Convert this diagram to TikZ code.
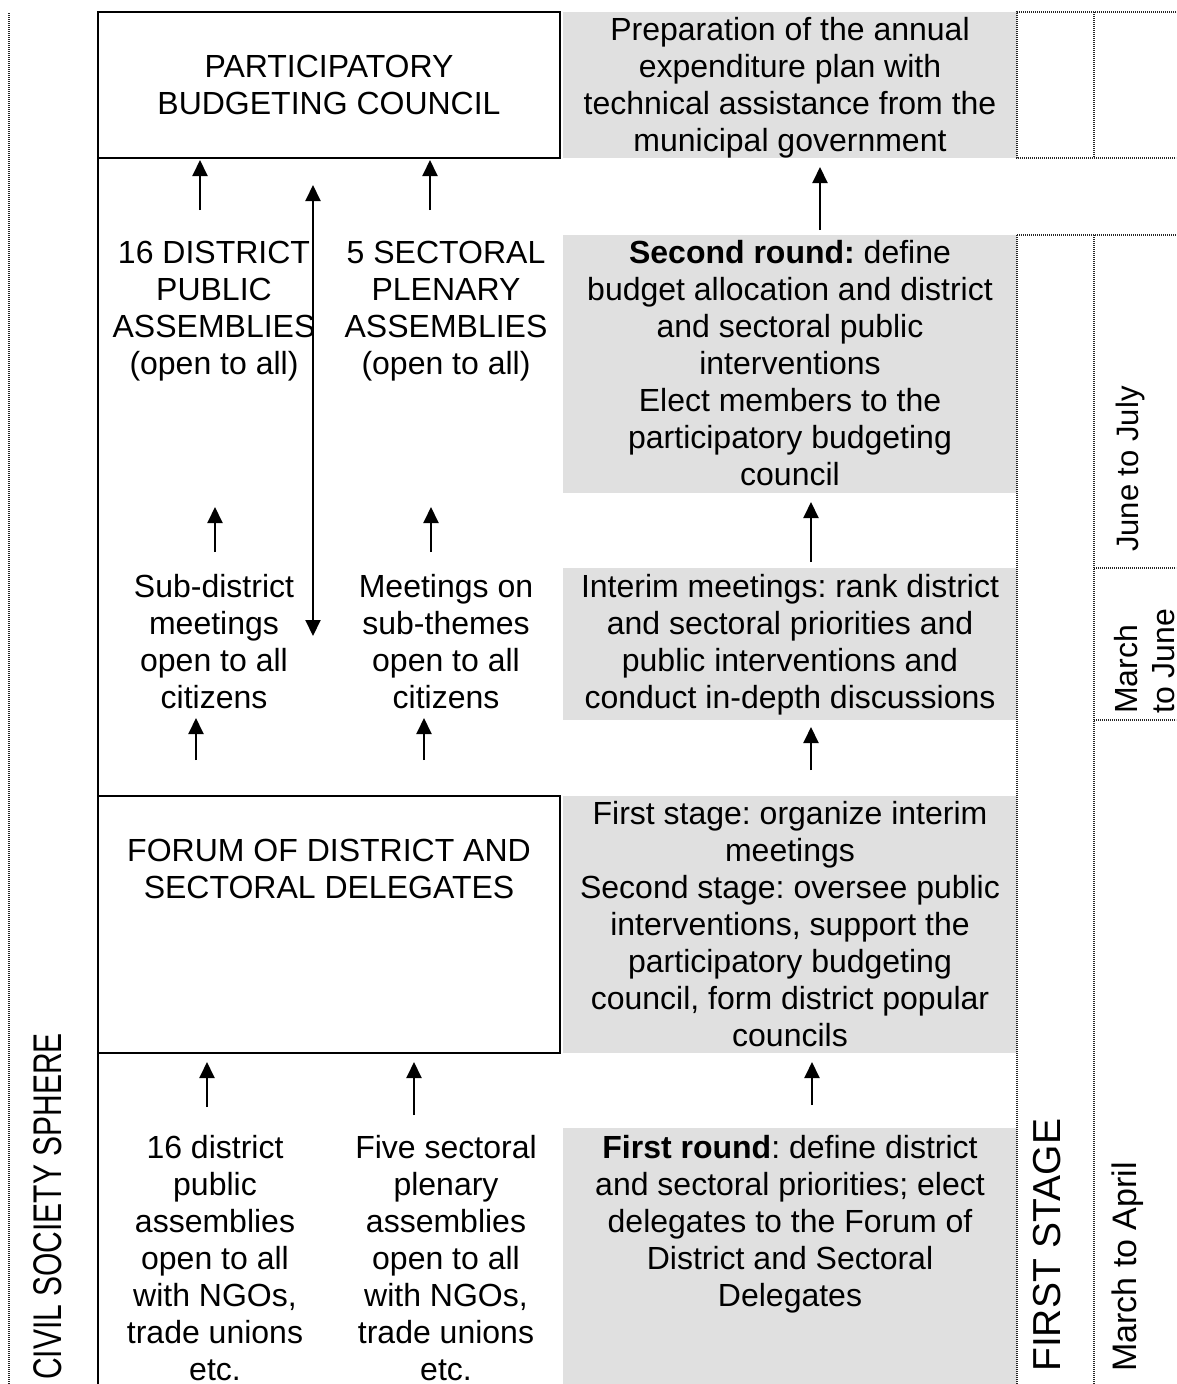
\documentclass[tikz,border=0pt]{standalone}
\usepackage{fontspec}
\usepackage{graphicx}
\setmainfont{Liberation Sans}
\usetikzlibrary{arrows.meta}
\frenchspacing
\begin{document}
\begin{tikzpicture}[x=1pt,y=-1pt,
  txt/.style={font=\fontsize{32}{37}\selectfont, align=center, inner sep=0pt,
    execute at begin node=\strut, execute at end node=\strut},
  rot/.style={font=\fontsize{32}{37}\selectfont, rotate=90, inner sep=0pt},
  wbox/.style={draw=black, line width=2.5pt, rectangle, inner sep=0pt, outer sep=0pt},
  gbox/.style={fill=black!12, rectangle, inner sep=0pt, outer sep=0pt, minimum width=454pt},
  dotline/.style={line width=1.5pt, dash pattern=on 1pt off 1pt, black!85},
  solidline/.style={line width=2.5pt, black},
  arr/.style={line width=2pt, -{Triangle[width=15pt,length=16pt]}},
  darr/.style={line width=2pt, {Triangle[width=15pt,length=16pt]}-{Triangle[width=15pt,length=16pt]}}
]
\useasboundingbox (0,0) rectangle (1176,1384);
\clip (0,0) rectangle (1176,1384);

% gray boxes
\node[gbox, minimum height=146pt] (g1) at (790,85) {};
\node[gbox, minimum height=258pt] (g2) at (790,364) {};
\node[gbox, minimum height=152pt] (g3) at (790,644) {};
\node[gbox, minimum height=257pt] (g4) at (790,924.5) {};
\node[gbox, minimum height=262pt] (g5) at (790,1259) {};

% white boxes
\node[wbox, minimum width=462pt, minimum height=146pt] (council) at (329,85) {};
\node[wbox, minimum width=462pt, minimum height=257pt] (forum) at (329,924.5) {};
\coordinate (leftbottom) at (98,1390);
\draw[solidline] (council.south west) -- (forum.north west);
\draw[solidline] (forum.south west) -- (leftbottom);

% left dotted line
\coordinate (ld1) at (9,13);
\coordinate (ld2) at (9,1390);
\draw[dotline] (ld1) -- (ld2);

% right dotted frames
\coordinate (rt1) at (1017,12);
\coordinate (rt2) at (1180,158);
\draw[dotline] (1180,12) -- (rt1) -- (1017,158) -- (rt2);
\coordinate (rtm1) at (1094,12);
\coordinate (rtm2) at (1094,158);
\draw[dotline] (rtm1) -- (rtm2);
\coordinate (rl1) at (1017,235);
\coordinate (rl2) at (1180,235);
\draw[dotline] (rl1) -- (rl2);
\coordinate (rv1b) at (1017,1390);
\draw[dotline] (rl1) -- (rv1b);
\coordinate (rv2a) at (1094,235);
\coordinate (rv2b) at (1094,1390);
\draw[dotline] (rv2a) -- (rv2b);
\coordinate (rh1a) at (1094,568);
\coordinate (rh1b) at (1180,568);
\draw[dotline] (rh1a) -- (rh1b);
\coordinate (rh2a) at (1094,720);
\coordinate (rh2b) at (1180,720);
\draw[dotline] (rh2a) -- (rh2b);

% texts in white column
\node[txt] (tcouncil) at (329,90.5) {PARTICIPATORY\\BUDGETING COUNCIL};
\node[txt] (tdist) at (214,313.5) {16 DISTRICT\\PUBLIC\\ASSEMBLIES\\(open to all)};
\node[txt] (tsect) at (446,313.5) {5 SECTORAL\\PLENARY\\ASSEMBLIES\\(open to all)};
\node[txt] (tsubd) at (214,647) {Sub-district\\meetings\\open to all\\citizens};
\node[txt] (tsubt) at (446,647) {Meetings on\\sub-themes\\open to all\\citizens};
\node[txt] (tforum) at (329,874.5) {FORUM OF DISTRICT AND\\SECTORAL DELEGATES};
\node[txt] (tdpa) at (215,1263) {16 district\\public\\assemblies\\open to all\\with NGOs,\\trade unions\\etc.};
\node[txt] (tspa) at (446,1263) {Five sectoral\\plenary\\assemblies\\open to all\\with NGOs,\\trade unions\\etc.};

% texts in gray column
\node[txt] (tg1) at (790,89.5) {Preparation of the annual\\expenditure plan with\\technical assistance from the\\municipal government};
\node[txt] (tg2) at (790,368.5) {\textbf{Second round:} define\\budget allocation and district\\and sectoral public\\interventions\\Elect members to the\\participatory budgeting\\council};
\node[txt] (tg3) at (790,647) {Interim meetings: rank district\\and sectoral priorities and\\public interventions and\\conduct in-depth discussions};
\node[txt] (tg4) at (790,929.5) {First stage: organize interim\\meetings\\Second stage: oversee public\\interventions, support the\\participatory budgeting\\council, form district popular\\councils};
\node[txt] (tg5) at (790,1226.5) {\textbf{First round}: define district\\and sectoral priorities; elect\\delegates to the Forum of\\District and Sectoral\\Delegates};

% rotated texts
\node[rot, anchor=west, font=\fontsize{40}{46}\selectfont] (civil) at (47.5,1380) {\scalebox{0.75}[1]{CIVIL SOCIETY SPHERE}};
\node[rot, anchor=west, font=\fontsize{39}{45}\selectfont] (first) at (1047,1372) {FIRST STAGE};
\node[rot, anchor=west, font=\fontsize{34}{39}\selectfont] (marapr) at (1128,1372) {March to April};
\node[rot, anchor=west, font=\fontsize{31}{36}\selectfont] (junjul) at (1130,552) {June to July};
\node[rot, anchor=north west, align=left] (marjun) at (1114,714) {March\\to June};

% arrows, white column
\coordinate (a1t) at (200,210); \coordinate (a1h) at (200,160);
\draw[arr] (a1t) -- (a1h);
\coordinate (a2t) at (430,210); \coordinate (a2h) at (430,160);
\draw[arr] (a2t) -- (a2h);
\coordinate (a3t) at (313,185); \coordinate (a3h) at (313,636);
\draw[darr] (a3t) -- (a3h);
\coordinate (a4t) at (215,552); \coordinate (a4h) at (215,507);
\draw[arr] (a4t) -- (a4h);
\coordinate (a5t) at (431,552); \coordinate (a5h) at (431,507);
\draw[arr] (a5t) -- (a5h);
\coordinate (a6t) at (196,760); \coordinate (a6h) at (196,718);
\draw[arr] (a6t) -- (a6h);
\coordinate (a7t) at (424,760); \coordinate (a7h) at (424,718);
\draw[arr] (a7t) -- (a7h);
\coordinate (a8t) at (207,1107); \coordinate (a8h) at (207,1062);
\draw[arr] (a8t) -- (a8h);
\coordinate (a9t) at (414,1115); \coordinate (a9h) at (414,1062);
\draw[arr] (a9t) -- (a9h);

% arrows, gray column
\coordinate (r1t) at (820,230); \coordinate (r1h) at (820,167);
\draw[arr] (r1t) -- (r1h);
\coordinate (r2t) at (811,562); \coordinate (r2h) at (811,502);
\draw[arr] (r2t) -- (r2h);
\coordinate (r3t) at (811,770); \coordinate (r3h) at (811,727);
\draw[arr] (r3t) -- (r3h);
\coordinate (r4t) at (812,1105); \coordinate (r4h) at (812,1062);
\draw[arr] (r4t) -- (r4h);
\end{tikzpicture}
\end{document}
